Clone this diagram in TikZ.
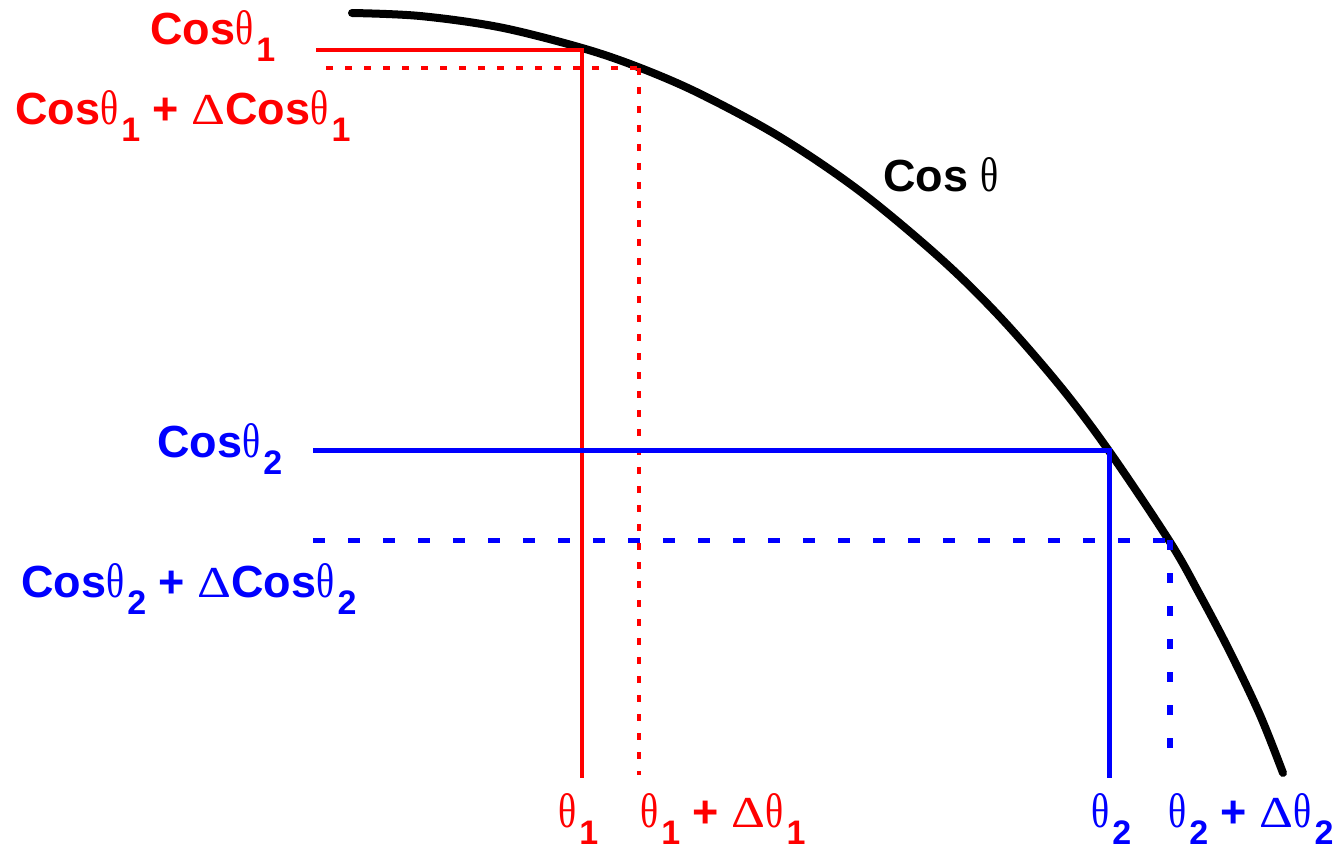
\documentclass[tikz,border=0pt]{standalone}
\usepackage{fontspec}
\usepackage{graphicx}
\setmainfont{Liberation Sans}
\newfontfamily\symf{Liberation Serif}
\newcommand\gk{{\symf\mdseries\fontsize{36}{36}\selectfont\scalebox{1.05}[1.35]{θ}}}
\newcommand\subx[1]{\hspace{3pt}\raisebox{-17pt}{\fontsize{34}{34}\selectfont\bfseries #1}}
\newcommand\dlt{{\symf\mdseries\fontsize{34}{34}\selectfont\scalebox{1.55}[1.3]{Δ}}}
\definecolor{pred}{RGB}{255,0,0}
\definecolor{pblue}{RGB}{0,0,255}
\begin{document}
\begin{tikzpicture}[x=1pt,y=-1pt,
  lab/.style={inner sep=0pt, anchor=base west, font=\fontsize{45}{50}\selectfont\bfseries},
  curve/.style={line width=8pt, line cap=round, black},
  redsolid/.style={pred, line width=3.5pt},
  reddot/.style={pred, line width=3.5pt, dash pattern=on 7pt off 12pt},
  bluesolid/.style={pblue, line width=5pt},
  bluedash/.style={pblue, line width=5pt, dash pattern=on 12pt off 23pt},
  bluedot/.style={pblue, line width=6pt, dash pattern=on 10pt off 23pt}]
\useasboundingbox (0,0) rectangle (1344,850);

% curve points
\coordinate (p1) at (582,48);
\coordinate (p1d) at (639,67.4);
\coordinate (p2) at (1109,451);
\coordinate (p2d) at (1170,542);

\draw[curve] plot[smooth, tension=0.55] coordinates {(352,13) (420,16) (500,27.3) (p1) (p1d) (700,93.8) (780,137) (860,191.3) (940,258) (1000,317) (1060,386) (p2) (p2d) (1200,595) (1230,652) (1260,715) (1283,773)};

% end coordinates
\coordinate (a1) at (316,50);
\coordinate (a1d) at (326,68);
\coordinate (b1) at (582,778);
\coordinate (b1d) at (639,775);
\coordinate (a2) at (313,450);
\coordinate (a2d) at (313,540);
\coordinate (b2) at (1109,778);
\coordinate (b2d) at (1170,757);

\draw[redsolid] (a1) -- (a1 -| p1) -- (b1);
\draw[reddot] (a1d) -- (a1d -| p1d);
\draw[reddot] (a1d -| p1d) -- (b1d);
\draw[bluesolid] (a2) -- (a2 -| p2) -- (b2);
\draw[bluedash] (a2d) -- (a2d -| p2d);
\draw[bluedot] (a2d -| p2d) -- (b2d);

% labels
\node[lab, pred] (c1) at (150,45) {Cos\gk\subx{1}};
\node[lab, pred] (c1d) at (15,125) {Cos\gk\subx{1} + \dlt Cos\gk\subx{1}};
\node[lab, black] (ct) at (883,192) {Cos \gk{}};
\node[lab, pblue] (c2) at (157,457) {Cos\gk\subx{2}};
\node[lab, pblue] (c2d) at (21,597) {Cos\gk\subx{2} + \dlt Cos\gk\subx{2}};
\node[lab, pred] (t1) at (558,827) {\gk\subx{1}};
\node[lab, pred] (t1d) at (640,827) {\gk\subx{1} + \dlt\gk\subx{1}};
\node[lab, pblue] (t2) at (1091,827) {\gk\subx{2}};
\node[lab, pblue] (t2d) at (1168,827) {\gk\subx{2} + \dlt\gk\subx{2}};
\end{tikzpicture}
\end{document}
